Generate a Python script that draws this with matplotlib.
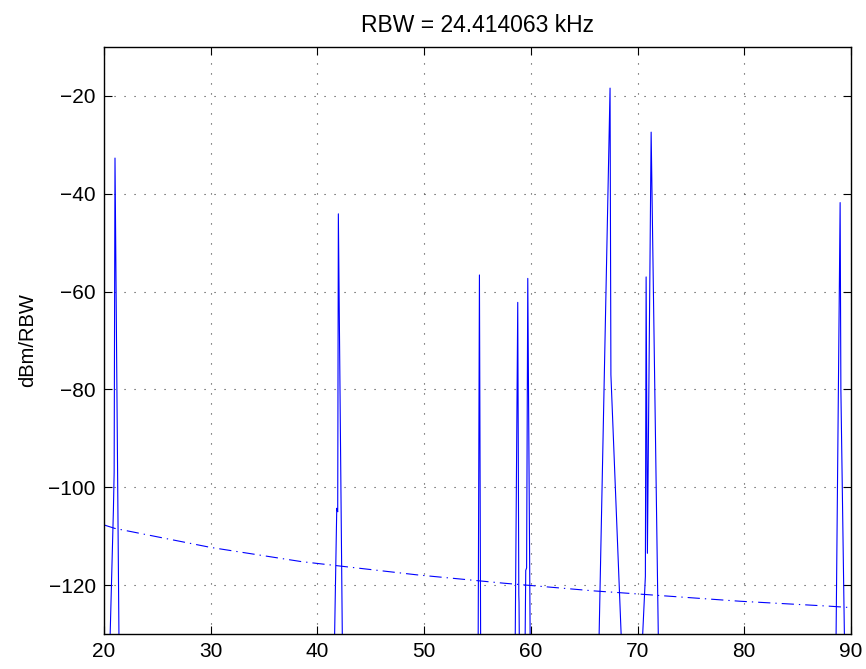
import numpy as np
import matplotlib
matplotlib.use('Agg')
import matplotlib.pyplot as plt

# 设置字体（接近 MATLAB 的 Helvetica）
plt.rcParams['font.family'] = ['Liberation Sans', 'DejaVu Sans']
plt.rcParams['axes.unicode_minus'] = True

# 频谱数据（从图上读取，-170 表示在坐标轴以下）
freq = [20.10, 20.88, 20.95, 21.03, 21.55,
        41.30, 41.81, 41.90, 41.96, 42.50,
        55.00, 55.18, 55.35,
        58.40, 58.77, 58.87, 58.89, 59.05,
        59.30, 59.52, 59.60, 59.71, 60.05,
        66.03, 67.42, 67.50, 69.18,
        69.63, 70.73, 70.80, 70.92, 71.27, 72.20,
        88.43, 88.98, 89.05, 89.64]
level = [-170, -104.7, -97.0, -32.7, -170,
         -170, -104.3, -105.0, -44.1, -170,
         -170, -56.6, -170,
         -170, -62.2, -122.0, -123.5, -170,
         -170, -117.0, -116.5, -57.3, -170,
         -170, -18.4, -77.0, -170,
         -170, -118.2, -57.0, -113.5, -27.4, -170,
         -170, -41.8, -80.0, -170]

# 噪声底线（点划线）
floor_freq = [20.0, 21.0, 30.0, 38.5, 49.3, 57.4, 66.0, 68.0, 79.6, 87.9, 90.0]
floor_level = [-107.7, -108.4, -112.3, -115.2, -117.9, -119.6, -121.2, -121.5, -123.3, -124.3, -124.6]

x_ticks = [20, 30, 40, 50, 60, 70, 80, 90]
y_ticks = [-120, -100, -80, -60, -40, -20]
title_text = 'RBW = 24.414063 kHz'
y_label = 'dBm/RBW'

fig = plt.figure(figsize=(8.66, 6.69), dpi=100)
ax = fig.add_axes([0.1201, 0.0523, 0.8626, 0.8774])

ax.plot(freq, level, color='b', linewidth=0.8)
ax.plot(floor_freq, floor_level, color='b', linewidth=0.8, linestyle=(0, (11, 4.5, 1.2, 4.5)))

ax.set_xlim(20, 90)
ax.set_ylim(-130, -10)
ax.set_xticks(x_ticks)
ax.set_yticks(y_ticks)
ax.tick_params(direction='in', top=True, right=True, length=6, width=0.8, labelsize=15, pad=6)
ax.grid(True, color='0.25', linestyle=(0, (1, 8)), linewidth=0.8)
for sp in ax.spines.values():
    sp.set_linewidth(1.0)

ax.set_title(title_text, fontsize=16.5, pad=11)
ax.set_ylabel(y_label, fontsize=14.5, labelpad=8)

fig.savefig('out.png', dpi=100)
